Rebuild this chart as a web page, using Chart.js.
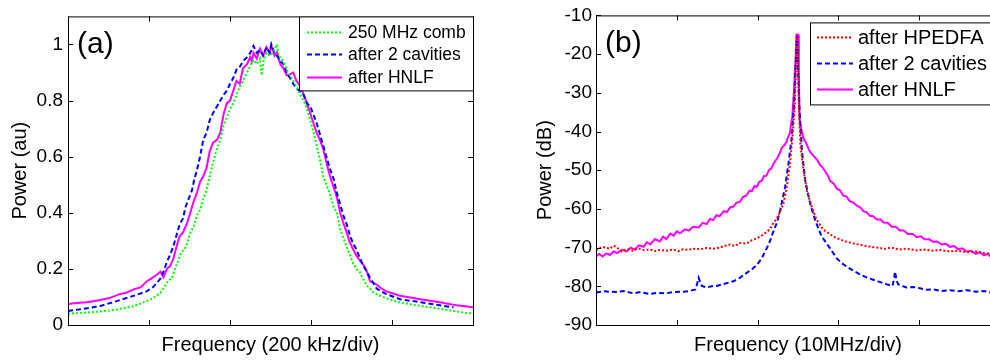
<!DOCTYPE html>
<html>
<head>
<meta charset="UTF-8">
<title>Comb spectra</title>
<script src="https://cdn.jsdelivr.net/npm/chart.js@4"></script>
<style>
  html, body { margin: 0; padding: 0; background: #fff; overflow: hidden; }
  body { width: 990px; height: 360px; position: relative; }
  #chartA { position: absolute; left: 0; top: 0; }
  #chartB { position: absolute; left: 500px; top: 0; }
</style>
</head>
<body>
<canvas id="chartA" width="490" height="360"></canvas>
<canvas id="chartB" width="520" height="360"></canvas>
<script>
// ---- panel (a): x in divisions (200 kHz/div), y in au
const xTicksA = [0, 1, 2, 3, 4, 5];
const yTicksA = [0, 0.2, 0.4, 0.6, 0.8, 1];

const combA = [[0,.040],[0.2,.044],[0.4,.048],[0.6,.055],[0.81,.067],[0.97,.085],[1.05,.095],[1.14,.115],[1.2,.14],[1.24,.16],
  [1.28,.165],[1.32,.2],[1.36,.23],[1.4,.26],[1.44,.27],[1.47,.29],[1.51,.33],[1.55,.35],[1.59,.39],[1.63,.41],
  [1.67,.45],[1.71,.48],[1.75,.53],[1.79,.58],[1.84,.63],[1.88,.66],[1.92,.71],[1.96,.74],[2,.77],[2.04,.79],
  [2.08,.82],[2.12,.85],[2.16,.87],[2.21,.9],[2.25,.925],[2.29,.945],[2.33,.93],[2.37,.95],[2.39,.89],[2.42,.95],
  [2.45,.97],[2.49,.96],[2.53,.97],[2.56,.99],[2.58,1.0],[2.6,.96],[2.63,.95],[2.66,.94],[2.7,.91],[2.74,.89],
  [2.78,.87],[2.82,.85],[2.87,.82],[2.91,.8],[2.95,.77],[2.99,.73],[3.03,.69],[3.07,.64],[3.11,.59],[3.15,.53],
  [3.19,.5],[3.23,.47],[3.28,.42],[3.32,.4],[3.36,.34],[3.4,.31],[3.44,.28],[3.48,.25],[3.52,.22],[3.56,.2],
  [3.6,.19],[3.65,.16],[3.69,.14],[3.73,.13],[3.77,.115],[3.81,.11],[3.85,.105],[3.93,.095],[4.1,.08],[4.35,.068],
  [4.59,.058],[4.8,.048],[5,.040]];

const cavA = [[0,.05],[0.2,.058],[0.4,.068],[0.6,.085],[0.81,.104],[0.97,.12],[1.05,.135],[1.14,.165],[1.18,.19],[1.22,.225],
  [1.26,.25],[1.3,.28],[1.34,.32],[1.38,.36],[1.42,.38],[1.45,.42],[1.49,.45],[1.53,.48],[1.56,.52],[1.59,.55],
  [1.63,.6],[1.67,.66],[1.71,.685],[1.75,.73],[1.79,.755],[1.84,.78],[1.88,.8],[1.92,.82],[1.96,.835],[2,.86],
  [2.04,.88],[2.08,.91],[2.12,.92],[2.16,.94],[2.21,.955],[2.25,.97],[2.29,.995],[2.33,.97],[2.37,.98],[2.41,.96],
  [2.45,.99],[2.49,.97],[2.51,1.0],[2.55,.97],[2.58,.96],[2.62,.94],[2.66,.93],[2.7,.9],[2.74,.88],[2.78,.86],
  [2.82,.845],[2.87,.83],[2.91,.82],[2.95,.79],[2.99,.78],[3.03,.75],[3.07,.72],[3.11,.68],[3.15,.64],[3.19,.6],
  [3.23,.56],[3.28,.52],[3.32,.47],[3.36,.43],[3.4,.39],[3.44,.36],[3.48,.32],[3.52,.29],[3.56,.27],[3.6,.24],
  [3.65,.21],[3.69,.19],[3.73,.167],[3.77,.15],[3.81,.13],[3.87,.12],[3.93,.11],[4.1,.092],[4.35,.081],[4.59,.07],
  [4.76,.063]];

const hnlfA = [[0,.075],[0.1,.078],[0.23,.081],[0.4,.089],[0.5,.095],[0.64,.11],[0.72,.115],[0.81,.127],[0.9,.135],[0.97,.155],
  [1.05,.17],[1.1,.18],[1.14,.19],[1.18,.17],[1.22,.2],[1.26,.21],[1.3,.236],[1.34,.28],[1.38,.317],[1.42,.33],
  [1.47,.363],[1.51,.4],[1.55,.44],[1.59,.47],[1.63,.51],[1.67,.53],[1.71,.56],[1.75,.62],[1.79,.65],[1.84,.66],
  [1.88,.685],[1.92,.75],[1.96,.79],[2,.8],[2.04,.835],[2.08,.87],[2.12,.86],[2.16,.915],[2.21,.93],[2.25,.955],
  [2.27,.94],[2.29,.97],[2.33,.95],[2.37,.985],[2.41,.96],[2.45,.99],[2.49,.97],[2.51,.997],[2.55,.96],[2.58,.973],
  [2.62,.93],[2.66,.915],[2.7,.89],[2.74,.893],[2.78,.9],[2.82,.87],[2.87,.85],[2.91,.82],[2.95,.79],[2.99,.755],
  [3.03,.72],[3.07,.685],[3.11,.66],[3.15,.628],[3.19,.58],[3.23,.535],[3.28,.49],[3.32,.455],[3.36,.4],[3.4,.363],
  [3.44,.33],[3.48,.294],[3.52,.27],[3.56,.248],[3.6,.23],[3.65,.213],[3.69,.19],[3.73,.155],[3.77,.15],[3.81,.144],
  [3.87,.13],[3.93,.12],[4.1,.104],[4.35,.092],[4.59,.081],[4.8,.07],[5,.063]];

// ---- panel (b): x in divisions (10 MHz/div), y in dB
const xTicksB = [0, 1, 2, 3, 4, 5];
const yTicksB = [-90, -80, -70, -60, -50, -40, -30, -20, -10];

const edfaB = [[0,-70.7],[0.08,-69.8],[0.17,-70.3],[0.22,-69.5],[0.26,-70],[0.32,-71],[0.38,-70.4],[0.46,-70.8],[0.52,-70.2],[0.59,-70.6],
  [0.67,-70.5],[0.73,-70.9],[0.79,-70.6],[0.87,-70.8],[0.96,-70.5],[1.02,-70.9],[1.08,-70.4],[1.14,-70.6],[1.2,-70.3],[1.29,-70.4],
  [1.37,-70.1],[1.45,-70.3],[1.53,-70],[1.6,-69.5],[1.66,-69.2],[1.72,-69.6],[1.78,-68.8],[1.86,-69],[1.92,-68.2],[1.99,-67.6],
  [2.05,-66.9],[2.11,-66],[2.15,-65.3],[2.2,-63.5],[2.24,-62.5],[2.28,-60.5],[2.32,-58.6],[2.36,-54.4],[2.4,-48.6],[2.43,-41.9],
  [2.46,-33.6],[2.48,-21],[2.49,-15.2],[2.5,-21],[2.51,-33.6],[2.53,-43.6],[2.57,-50.3],[2.61,-55.3],[2.67,-59.5],[2.73,-62.8],
  [2.81,-65.3],[2.9,-66.6],[2.94,-67.2],[3.02,-67.9],[3.1,-68.5],[3.18,-68.9],[3.27,-69.3],[3.35,-69.6],[3.43,-69.9],[3.52,-70.1],
  [3.56,-70.4],[3.65,-70],[3.76,-70.5],[3.84,-70.3],[3.97,-70.7],[4.05,-70.5],[4.17,-70.8],[4.26,-70.6],[4.38,-71],[4.48,-70.8],
  [4.59,-71.2],[4.7,-71],[4.8,-71.4],[4.88,-71.6],[5,-71.5]];

const cavB = [[0,-81.6],[0.1,-81.3],[0.17,-81.4],[0.26,-81.5],[0.34,-81.2],[0.46,-81.8],[0.55,-81.5],[0.67,-82],[0.75,-81.7],[0.87,-81.8],
  [0.96,-81.5],[1.08,-81.4],[1.16,-81.2],[1.23,-80.8],[1.25,-79.5],[1.27,-77.8],[1.29,-79],[1.31,-79.9],[1.37,-80.3],[1.43,-80],
  [1.49,-79.9],[1.58,-79.4],[1.7,-78.7],[1.78,-77.8],[1.86,-76.6],[1.93,-75.6],[1.99,-74.5],[2.05,-72.8],[2.11,-70.3],[2.15,-68.5],
  [2.19,-66.1],[2.24,-63.5],[2.28,-60.3],[2.34,-54.4],[2.38,-48.6],[2.42,-41.9],[2.45,-33.6],[2.47,-23.5],[2.49,-15.2],[2.5,-23.5],
  [2.52,-35.2],[2.55,-45.3],[2.59,-52.8],[2.65,-58.6],[2.71,-62.8],[2.79,-67],[2.9,-70.3],[2.98,-72.8],[3.04,-74],[3.1,-74.9],
  [3.18,-75.9],[3.27,-77],[3.35,-77.7],[3.43,-78.3],[3.5,-78.8],[3.6,-79.5],[3.67,-79.9],[3.69,-78],[3.7,-76.2],[3.72,-78.5],
  [3.74,-79.5],[3.84,-80.3],[3.93,-80.2],[4.01,-80.5],[4.09,-80.9],[4.17,-80.8],[4.28,-81.2],[4.38,-81],[4.48,-81.3],[4.59,-81],
  [4.7,-81.4],[4.8,-81.2],[4.88,-81.6],[5,-81.5]];

const hnlfB = [[0,-72.4],[0.04,-71.6],[0.08,-72.3],[0.13,-71.5],[0.17,-71.9],[0.22,-71],[0.26,-71.4],[0.32,-70.6],[0.38,-71],[0.43,-70],
  [0.48,-70.5],[0.53,-69.4],[0.59,-69.8],[0.63,-68.6],[0.67,-69.2],[0.73,-67.8],[0.79,-68.4],[0.83,-67.2],[0.87,-67.8],[0.92,-66.4],
  [0.96,-66.9],[1,-65.8],[1.04,-66.3],[1.1,-65.3],[1.15,-65.6],[1.2,-64.6],[1.27,-64.8],[1.32,-63.6],[1.37,-63.9],[1.41,-62.6],
  [1.45,-62.9],[1.49,-61.6],[1.53,-61.9],[1.58,-60.6],[1.62,-60.8],[1.66,-59.6],[1.7,-59.4],[1.74,-58.4],[1.78,-58.2],[1.82,-56.9],
  [1.86,-56.6],[1.9,-55.3],[1.93,-55.4],[1.96,-54.1],[1.99,-54.3],[2.02,-53],[2.05,-52.8],[2.08,-51.5],[2.11,-51.4],[2.14,-50],
  [2.17,-49.5],[2.2,-48.2],[2.24,-47],[2.28,-45.3],[2.3,-44.2],[2.32,-43.8],[2.35,-43],[2.38,-41.3],[2.4,-40.5],[2.41,-38.6],
  [2.43,-36.1],[2.45,-29.4],[2.47,-21],[2.48,-15],[2.5,-15],[2.51,-25.2],[2.52,-36.9],[2.54,-39.5],[2.57,-41.9],[2.6,-43],
  [2.65,-45.3],[2.7,-46.5],[2.74,-47.4],[2.77,-48.6],[2.8,-49.2],[2.84,-50.4],[2.87,-51.4],[2.9,-52.8],[2.94,-53.4],[2.98,-54.8],
  [3.02,-55.2],[3.06,-56.6],[3.1,-56.8],[3.14,-58],[3.18,-58.3],[3.23,-59.2],[3.27,-59.6],[3.31,-60.6],[3.35,-60.9],[3.39,-61.8],
  [3.43,-61.9],[3.48,-62.8],[3.52,-62.7],[3.56,-63.5],[3.61,-63.6],[3.66,-64.6],[3.71,-64.6],[3.76,-65.6],[3.81,-65.6],[3.86,-66.5],
  [3.92,-66.5],[3.97,-67.3],[4.02,-67.1],[4.07,-67.9],[4.12,-67.8],[4.17,-68.5],[4.22,-68.4],[4.28,-69.2],[4.33,-69],[4.38,-69.8],
  [4.43,-69.6],[4.48,-70.4],[4.53,-70.2],[4.59,-71],[4.64,-70.8],[4.7,-71.6],[4.75,-71.2],[4.8,-72],[4.85,-71.6],[4.88,-72.3],
  [4.94,-71.8],[5,-72.3]];

const FONT = '"Liberation Sans", Arial, Helvetica, sans-serif';

function pts(list) { return list.map(p => ({ x: p[0], y: p[1] })); }

function line(label, list, color, dash) {
  return { label: label, data: pts(list), borderColor: color, borderWidth: 2, borderDash: dash,
           pointRadius: 0, tension: 0, fill: false };
}

// frame, inward ticks, legend box and panel letter
function framePlugin(cfg) {
  return {
    id: 'frame',
    afterDatasetsDraw(chart) {
      const { ctx, chartArea: a, scales: { x, y } } = chart;
      ctx.save();
      ctx.strokeStyle = '#000';
      ctx.lineWidth = 1;
      ctx.setLineDash([]);
      ctx.strokeRect(a.left + 0.5, a.top + 0.5, a.right - a.left, a.bottom - a.top);
      ctx.beginPath();
      cfg.xTicks.forEach(v => {
        const px = Math.round(x.getPixelForValue(v)) + 0.5;
        ctx.moveTo(px, a.bottom); ctx.lineTo(px, a.bottom - 5);
        ctx.moveTo(px, a.top); ctx.lineTo(px, a.top + 5);
      });
      cfg.yTicks.forEach(v => {
        const py = Math.round(y.getPixelForValue(v)) + 0.5;
        ctx.moveTo(a.left, py); ctx.lineTo(a.left + 5, py);
        ctx.moveTo(a.right, py); ctx.lineTo(a.right - 5, py);
      });
      ctx.stroke();

      // legend
      const L = cfg.legend;
      const bx = a.left + L.dx, by = a.top + L.dy;
      const bw = a.right + L.extra - bx;
      ctx.fillStyle = '#fff';
      ctx.fillRect(bx, by, bw, L.h);
      ctx.strokeRect(bx + 0.5, by + 0.5, bw, L.h);
      ctx.font = L.size + 'px ' + FONT;
      ctx.textBaseline = 'middle';
      ctx.textAlign = 'left';
      chart.data.datasets.forEach((ds, i) => {
        const ry = by + L.rows[i];
        ctx.strokeStyle = ds.borderColor;
        ctx.lineWidth = ds.borderWidth;
        ctx.setLineDash(ds.borderDash || []);
        ctx.beginPath();
        ctx.moveTo(bx + L.x1, ry); ctx.lineTo(bx + L.x2, ry);
        ctx.stroke();
        ctx.fillStyle = '#000';
        ctx.fillText(ds.label, bx + L.tx, ry + 1);
      });

      ctx.setLineDash([]);
      ctx.fillStyle = '#000';
      ctx.font = '30px ' + FONT;
      ctx.fillText(cfg.letter, a.left + 9, a.top + 28);
      ctx.restore();
    }
  };
}

function makeOptions(o) {
  return {
    responsive: false,
    animation: false,
    layout: { padding: o.padding },
    plugins: { legend: { display: false }, tooltip: { enabled: false } },
    scales: {
      x: {
        type: 'linear', min: 0, max: 5,
        grid: { display: false, drawTicks: false }, border: { display: false },
        ticks: { display: false },
        afterFit: s => { s.height = 35; },
        title: { display: true, text: o.xTitle, color: '#000', font: { family: FONT, size: 20 }, padding: { top: 0, bottom: 3 } }
      },
      y: {
        min: o.yMin, max: o.yMax,
        grid: { display: false, drawTicks: false }, border: { display: false },
        afterBuildTicks: s => { s.ticks = o.yTicks.map(v => ({ value: v })); },
        afterFit: s => { s.width = o.yWidth; },
        ticks: { color: '#000', padding: o.tickPad, font: { family: FONT, size: 19 },
                 callback: v => String(Number(v.toFixed(1))) },
        title: { display: true, text: o.yTitle, color: '#000', font: { family: FONT, size: 20 }, padding: { top: o.yTitlePad, bottom: 0 } }
      }
    }
  };
}

new Chart(document.getElementById('chartA'), {
  type: 'line',
  data: { datasets: [
    line('250 MHz comb', combA, '#00ff00', [2, 2]),
    line('after 2 cavities', cavA, '#0000ff', [5, 3]),
    line('after HNLF', hnlfA, '#ff00ff', [])
  ] },
  options: makeOptions({ padding: { top: 6, right: 17, left: 0, bottom: 0 }, xTitle: 'Frequency (200 kHz/div)',
    yTitle: 'Power (au)', yMin: 0, yMax: 1.1, yTicks: yTicksA, yWidth: 68, tickPad: 5, yTitlePad: 8 }),
  plugins: [framePlugin({ xTicks: xTicksA, yTicks: yTicksA, letter: '(a)',
    legend: { dx: 231, dy: 0, extra: 0, h: 74, rows: [16, 38, 61], x1: 8, x2: 43, tx: 49, size: 17.5 } })]
});

new Chart(document.getElementById('chartB'), {
  type: 'line',
  data: { datasets: [
    line('after HPEDFA', edfaB, '#ff0000', [2, 2]),
    line('after 2 cavities', cavB, '#0000ff', [5, 3]),
    line('after HNLF', hnlfB, '#ff00ff', [])
  ] },
  options: makeOptions({ padding: { top: 6, right: 20, left: 0, bottom: 0 }, xTitle: 'Frequency (10MHz/div)',
    yTitle: 'Power (dB)', yMin: -90, yMax: -10, yTicks: yTicksB, yWidth: 96, tickPad: 4, yTitlePad: 33 }),
  plugins: [framePlugin({ xTicks: xTicksB, yTicks: yTicksB, letter: '(b)',
    legend: { dx: 214, dy: 7, extra: 5, h: 82, rows: [15, 41, 67], x1: 7, x2: 43, tx: 48, size: 20 } })]
});
</script>
</body>
</html>
